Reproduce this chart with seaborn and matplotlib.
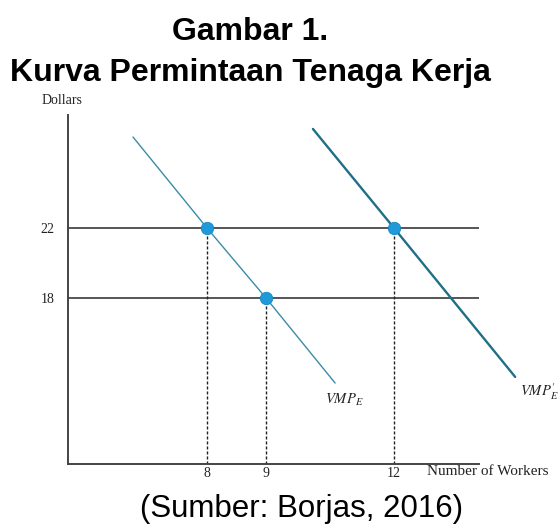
import numpy as np
import pandas as pd
import matplotlib
matplotlib.use("Agg")
import matplotlib.pyplot as plt
import seaborn as sns

# ---------------- data ----------------
workers_eq = [8, 9, 12]          # equilibrium employment
wages_eq = [22, 18, 22]          # wage at equilibrium
wage_levels = [22, 18]
x_ticks = [8, 9, 12]
x_tick_labels = ["8", "9", "12"]
y_ticks = [22, 18]
y_tick_labels = ["22", "18"]

vmp_x = [3.74, 8, 9, 10.62]      # VMP_E curve
vmp_y = [27.2, 22, 18, 13.14]
vmp2_x = [10.10, 12, 14.84]      # VMP'_E curve
vmp2_y = [27.66, 22, 13.49]

# ---------------- style ----------------
sns.set_theme(style="white")
plt.rcParams["mathtext.fontset"] = "stix"
plt.rcParams["font.family"] = ["Liberation Serif", "DejaVu Serif"]

fig = plt.figure(figsize=(5.59, 5.26), dpi=100)
ax = fig.add_axes([68 / 559, 62 / 526, 491 / 559, 349 / 526])

# schematic (piecewise-linear) horizontal scale, as in the textbook figure
SCALE_DATA = np.array([-100, 0, 8, 9, 12, 100], dtype=float)
SCALE_POS = np.array([-1739, 0, 139, 198, 326, 326 + 88 * 42.67])


def fwd(x):
    return np.interp(x, SCALE_DATA, SCALE_POS)


def inv(p):
    return np.interp(p, SCALE_POS, SCALE_DATA)


ax.set_xscale("function", functions=(fwd, inv))
ax.set_xlim(0, 15.867)
ax.set_ylim(8.514, 28.457)

y0 = 8.514
# horizontal wage lines
ax.hlines(wage_levels, 0, 14, colors="#555555", lw=1.4, zorder=1)
# dashed drop lines
ax.vlines(workers_eq, y0, wages_eq, colors="#222222", lw=1.0,
          linestyles=(0, (2.2, 1.4)), zorder=1)

df1 = pd.DataFrame({"x": vmp_x, "y": vmp_y})
df2 = pd.DataFrame({"x": vmp2_x, "y": vmp2_y})
sns.lineplot(data=df1, x="x", y="y", ax=ax, color="#3a8ca6", lw=1.0,
             estimator=None, sort=False, zorder=2)
sns.lineplot(data=df2, x="x", y="y", ax=ax, color="#1f6f86", lw=1.7,
             estimator=None, sort=False, zorder=2)

pts = pd.DataFrame({"x": workers_eq, "y": wages_eq})
sns.scatterplot(data=pts, x="x", y="y", ax=ax, s=80, color="#1e9ad8",
                edgecolor="#1a88c4", linewidth=0.6, zorder=3)

# axes appearance
for s in ["top", "right"]:
    ax.spines[s].set_visible(False)
for s in ["left", "bottom"]:
    ax.spines[s].set_color("#444444")
    ax.spines[s].set_linewidth(1.4)
ax.spines["bottom"].set_bounds(0, 14)

ax.set_xticks(x_ticks)
ax.set_xticklabels(x_tick_labels)
ax.set_yticks(y_ticks)
ax.set_yticklabels(y_tick_labels)
ax.tick_params(axis="both", length=0, labelsize=10, colors="#222222")
ax.tick_params(axis="y", pad=9.5)
ax.tick_params(axis="x", pad=2.5)
ax.set_xlabel("")
ax.set_ylabel("")

# curve labels
ax.text(10.38, 12.17, r"$VMP_E$", ha="left", va="center", fontsize=10.5,
        color="#222222")
ax.text(14.95, 12.63, r"$VMP_E^{\prime}$", ha="left", va="center",
        fontsize=10.5, color="#222222")
ax.text(12.78, 8.057, "Number of Workers", ha="left", va="center",
        fontsize=11, color="#222222")
fig.text(62 / 559, 1 - 101 / 526, "Dollars", ha="center", va="center",
         fontsize=10, color="#222222")

# titles
fig.text(250 / 559, 1 - 40 / 526, "Gambar 1.", ha="center", va="baseline",
         fontsize=23, fontweight="bold", family=["Liberation Sans", "DejaVu Sans"],
         color="black")
fig.text(250 / 559, 1 - 81 / 526, "Kurva Permintaan Tenaga Kerja",
         ha="center", va="baseline", fontsize=23, fontweight="bold",
         family=["Liberation Sans", "DejaVu Sans"], color="black")
fig.text(302 / 559, 1 - 517 / 526, "(Sumber: Borjas, 2016)", ha="center",
         va="baseline", fontsize=22.5,
         family=["Liberation Sans", "DejaVu Sans"], color="black")

fig.savefig("out.png", dpi=100)
